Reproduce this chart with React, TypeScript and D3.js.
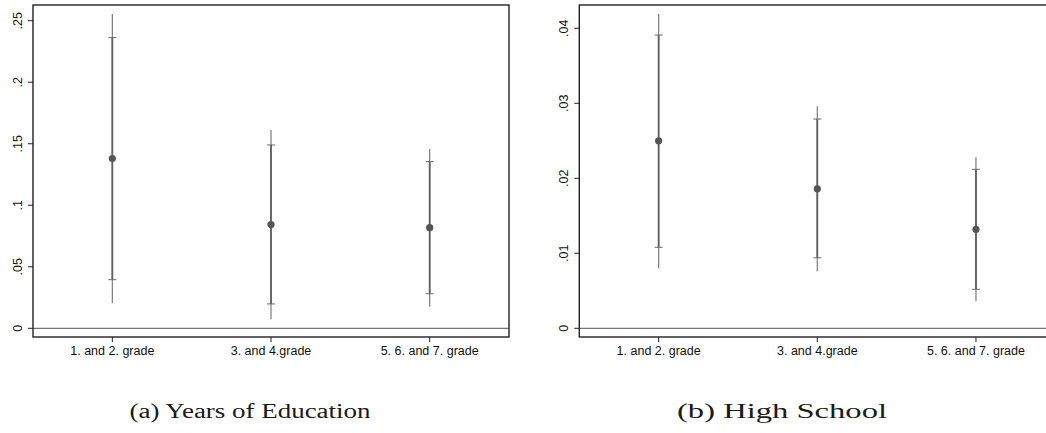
import React from "react";
import * as d3 from "d3";

const categories = ["1. and 2. grade", "3. and 4.grade", "5. 6. and 7. grade"];

const eduEst = [0.138, 0.0843, 0.0818];
const eduLo90 = [0.0395, 0.0198, 0.0281];
const eduHi90 = [0.2363, 0.149, 0.1355];
const eduLo95 = [0.0203, 0.0073, 0.0176];
const eduHi95 = [0.2555, 0.1612, 0.1458];

const hsEst = [0.025, 0.0186, 0.0132];
const hsLo90 = [0.0108, 0.0094, 0.0052];
const hsHi90 = [0.0391, 0.0279, 0.0212];
const hsLo95 = [0.008, 0.0076, 0.0036];
const hsHi95 = [0.0419, 0.0296, 0.0228];

const eduTicks = [0, 0.05, 0.1, 0.15, 0.2, 0.25];
const eduTickLabels = ["0", ".05", ".1", ".15", ".2", ".25"];
const hsTicks = [0, 0.01, 0.02, 0.03, 0.04];
const hsTickLabels = ["0", ".01", ".02", ".03", ".04"];

const captions = ["(a) Years of Education", "(b) High School"];

type PanelProps = {
  left: number;
  yMax: number;
  yMaxPx: number;
  est: number[];
  lo90: number[];
  hi90: number[];
  lo95: number[];
  hi95: number[];
  ticks: number[];
  tickLabels: string[];
};

const TOP = 5;
const BOTTOM = 337;
const ZERO = 328.3;
const WIDTH = 476;

function Panel(p: PanelProps) {
  const x = d3.scaleLinear().domain([0.5, 3.5]).range([p.left, p.left + WIDTH]);
  const y = d3.scaleLinear().domain([0, p.yMax]).range([ZERO, p.yMaxPx]);
  const font = "'Liberation Sans', Arial, sans-serif";
  return (
    <g>
      <line x1={p.left} x2={p.left + WIDTH} y1={y(0)} y2={y(0)} stroke="#555" strokeWidth={1} />
      {categories.map((c, i) => {
        const cx = x(i + 1);
        return (
          <g key={c}>
            <line x1={cx} x2={cx} y1={y(p.lo95[i])} y2={y(p.hi95[i])} stroke="#7a7a7a" strokeWidth={1.2} />
            <line x1={cx} x2={cx} y1={y(p.lo90[i])} y2={y(p.hi90[i])} stroke="#606060" strokeWidth={1.8} />
            <line x1={cx - 4} x2={cx + 4} y1={y(p.lo90[i])} y2={y(p.lo90[i])} stroke="#6a6a6a" strokeWidth={1} />
            <line x1={cx - 4} x2={cx + 4} y1={y(p.hi90[i])} y2={y(p.hi90[i])} stroke="#6a6a6a" strokeWidth={1} />
            <circle cx={cx} cy={y(p.est[i])} r={3.6} fill="#555" />
          </g>
        );
      })}
      <rect x={p.left} y={TOP} width={WIDTH} height={BOTTOM - TOP} fill="none" stroke="#222" strokeWidth={1.4} />
      {p.ticks.map((t, i) => (
        <g key={t}>
          <line x1={p.left - 5} x2={p.left} y1={y(t)} y2={y(t)} stroke="#222" strokeWidth={1} />
          <text
            transform={`translate(${p.left - 11},${y(t)}) rotate(-90)`}
            textAnchor="middle"
            fontFamily={font}
            fontSize={12.5}
            fill="#111"
          >
            {p.tickLabels[i]}
          </text>
        </g>
      ))}
      {categories.map((c, i) => (
        <g key={c}>
          <line x1={x(i + 1)} x2={x(i + 1)} y1={BOTTOM} y2={BOTTOM + 5} stroke="#222" strokeWidth={1} />
          <text x={x(i + 1)} y={BOTTOM + 18} textAnchor="middle" fontFamily={font} fontSize={12.5} fill="#111">
            {c}
          </text>
        </g>
      ))}
    </g>
  );
}

export default function App() {
  const serif = "'Liberation Serif', 'Times New Roman', serif";
  return (
    <div style={{ position: "absolute", left: 0, top: 0 }}>
      <svg width={1046} height={433} style={{ display: "block", background: "#fff" }}>
        <Panel
          left={33}
          yMax={0.25}
          yMaxPx={20.7}
          est={eduEst}
          lo90={eduLo90}
          hi90={eduHi90}
          lo95={eduLo95}
          hi95={eduHi95}
          ticks={eduTicks}
          tickLabels={eduTickLabels}
        />
        <Panel
          left={579.3}
          yMax={0.04}
          yMaxPx={28.3}
          est={hsEst}
          lo90={hsLo90}
          hi90={hsHi90}
          lo95={hsLo95}
          hi95={hsHi95}
          ticks={hsTicks}
          tickLabels={hsTickLabels}
        />
        <text x={250} y={418} textAnchor="middle" fontFamily={serif} fontSize={20} fill="#1a1a1a" textLength={241} lengthAdjust="spacingAndGlyphs">
          {captions[0]}
        </text>
        <text x={782} y={418} textAnchor="middle" fontFamily={serif} fontSize={20} fill="#1a1a1a" textLength={210} lengthAdjust="spacingAndGlyphs">
          {captions[1]}
        </text>
      </svg>
    </div>
  );
}
